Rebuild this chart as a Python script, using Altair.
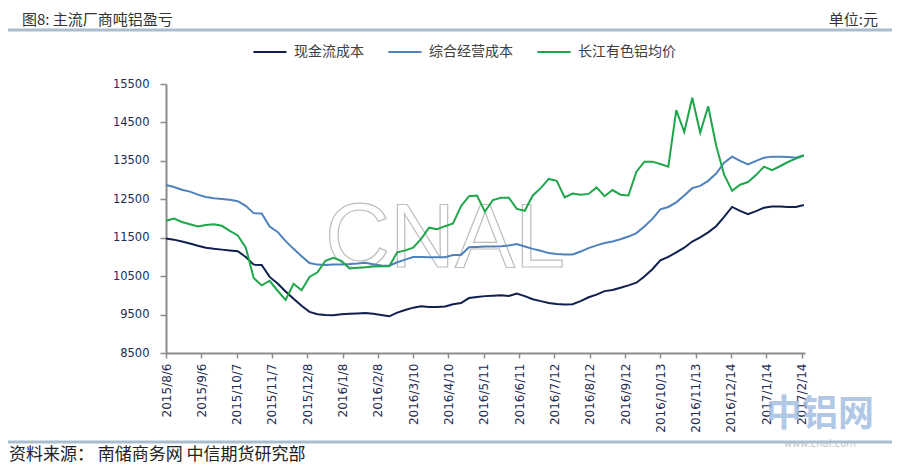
import altair as alt
import pandas as pd

# ---- data ----
dates = pd.date_range("2015-08-06", periods=81, freq="7D")

series_names = ["现金流成本", "综合经营成本", "长江有色铝均价"]

cash_cost = [11480, 11450, 11400, 11350, 11290, 11240, 11210, 11190, 11170, 11150,
             11000, 10800, 10790, 10480, 10310, 10100, 9910, 9730, 9570, 9510,
             9490, 9480, 9510, 9520, 9530, 9540, 9520, 9490, 9455, 9550,
             9620, 9680, 9715, 9700, 9700, 9710, 9770, 9800, 9930, 9960,
             9980, 9990, 10000, 9985, 10050, 9980, 9900, 9850, 9800, 9775,
             9765, 9770, 9850, 9950, 10020, 10110, 10140, 10200, 10260, 10330,
             10490, 10680, 10910, 11000, 11120, 11240, 11400, 11510, 11640, 11800,
             12040, 12300, 12200, 12110, 12190, 12280, 12310, 12310, 12300, 12300,
             12350]

total_cost = [12870, 12820, 12750, 12700, 12620, 12560, 12530, 12510, 12490, 12450,
              12330, 12140, 12130, 11790, 11650, 11410, 11210, 11020, 10840, 10800,
              10790, 10800, 10805, 10815, 10830, 10850, 10810, 10780, 10770, 10860,
              10930, 11000, 11000, 10990, 10990, 10990, 11050, 11050, 11250, 11260,
              11270, 11270, 11280, 11300, 11335, 11270, 11210, 11160, 11100, 11075,
              11065, 11065, 11140, 11230, 11300, 11360, 11400, 11460, 11530, 11620,
              11790, 11990, 12240, 12300, 12420, 12600, 12790, 12850, 12980, 13170,
              13450, 13610, 13500, 13410, 13500, 13580, 13610, 13610, 13600, 13580,
              13650]

price = [11940, 12000, 11910, 11850, 11790, 11830, 11850, 11810, 11680, 11560,
         11250, 10450, 10260, 10380, 10120, 9880, 10300, 10130, 10480, 10600,
         10900, 10980, 10900, 10700, 10720, 10730, 10750, 10760, 10760, 11120,
         11170, 11240, 11470, 11760, 11720, 11800, 11870, 12320, 12580, 12600,
         12180, 12480, 12540, 12540, 12250, 12200, 12600, 12790, 13030, 12980,
         12550, 12650, 12620, 12640, 12810, 12580, 12740, 12620, 12600, 13220,
         13480, 13480, 13420, 13350, 14820, 14250, 15140, 14230, 14920, 13900,
         13140, 12720, 12880, 12950, 13130, 13350, 13260, 13360, 13470, 13560,
         13640]

tick_dates = [(2015, 8, 6), (2015, 9, 6), (2015, 10, 7), (2015, 11, 7), (2015, 12, 8),
              (2016, 1, 8), (2016, 2, 8), (2016, 3, 10), (2016, 4, 10), (2016, 5, 11),
              (2016, 6, 11), (2016, 7, 12), (2016, 8, 12), (2016, 9, 12), (2016, 10, 13),
              (2016, 11, 13), (2016, 12, 14), (2017, 1, 14), (2017, 2, 14)]

y_ticks = [8500, 9500, 10500, 11500, 12500, 13500, 14500, 15500]

title_text = "图8: 主流厂商吨铝盈亏"
unit_text = "单位:元"
source_text = "资料来源： 南储商务网  中信期货研究部"

colors = ["#0f1f4f", "#4f81bd", "#20a64a"]

df = pd.DataFrame({
    "date": list(dates) * 3,
    "series": [series_names[0]] * 81 + [series_names[1]] * 81 + [series_names[2]] * 81,
    "value": cash_cost + total_cost + price,
})

W, H = 639, 269
CJK = "Noto Sans CJK SC"
LAB = "DejaVu Sans"
axis_gray = "#8c8c8c"
label_col = "#1c2b50"

dt = lambda t: alt.DateTime(year=t[0], month=t[1], date=t[2])

lines = alt.Chart(df).mark_line(strokeWidth=2).encode(
    x=alt.X("date:T",
            scale=alt.Scale(domain=[dt((2015, 8, 6)), dt((2017, 2, 17))]),
            axis=alt.Axis(values=[dt(t) for t in tick_dates], format="%Y/%-m/%-d",
                          labelAngle=-90, labelFont=LAB, labelFontSize=12,
                          labelColor=label_col, labelPadding=5, tickSize=5,
                          tickColor=axis_gray, domainColor=axis_gray, domainWidth=2,
                          tickWidth=1.5, grid=False, title=None, labelOverlap=False)),
    y=alt.Y("value:Q",
            scale=alt.Scale(domain=[8500, 15500], nice=False, zero=False),
            axis=alt.Axis(values=y_ticks, format="d", labelFont=LAB, labelFontSize=11.5,
                          labelColor=label_col, labelPadding=11, tickSize=6,
                          tickColor=axis_gray, domainColor=axis_gray, domainWidth=2,
                          tickWidth=1.5, grid=False, title=None)),
    color=alt.Color("series:N", sort=series_names,
                    scale=alt.Scale(domain=series_names, range=colors),
                    legend=alt.Legend(title=None, orient="none", direction="horizontal",
                                      legendX=86, legendY=-50, symbolType="stroke",
                                      symbolSize=1100, symbolStrokeWidth=2,
                                      labelFont=CJK, labelFontSize=14, labelColor="#404040",
                                      labelOffset=6, columnPadding=20)),
)

txt = pd.DataFrame({"t": [title_text, unit_text, source_text, "CNAL", "中铝网", "www.cnal.com"]})

def text_layer(i, **kw):
    pos = {k: kw.pop(k) for k in ["px", "py"]}
    return alt.Chart(txt.iloc[[i]]).mark_text(**kw).encode(
        x=alt.value(pos["px"]), y=alt.value(pos["py"]), text="t:N")

title = text_layer(0, px=22 - 166, py=20 - 84, align="left", baseline="middle",
                   font=CJK, fontSize=15, color="#333333")
unit = text_layer(1, px=878 - 166, py=20 - 84, align="right", baseline="middle",
                  font=CJK, fontSize=15, color="#333333")
source = text_layer(2, px=9 - 166, py=455 - 84, align="left", baseline="middle",
                    font=CJK, fontSize=17, color="#222222")
wm = text_layer(3, px=445 - 166, py=240 - 84, align="center", baseline="middle",
                font="Liberation Sans", fontSize=90, fill="white", stroke="#bdbdbd",
                strokeWidth=1.2)
logo = text_layer(4, px=820 - 166, py=415 - 84, align="center", baseline="middle",
                  font=CJK, fontSize=36, fontWeight="bold", color="#9dbbe0", opacity=0.8)
logo2 = text_layer(5, px=820 - 166, py=444 - 84, align="center", baseline="middle",
                   font=LAB, fontSize=10, color="#c8c8c8")

rule_df = pd.DataFrame({"a": [0]})
head_rule = alt.Chart(rule_df).mark_rule(color="#a9bdcf", strokeWidth=3).encode(
    x=alt.value(-158), x2=alt.value(892 - 166), y=alt.value(30 - 84))
foot_rule = alt.Chart(rule_df).mark_rule(color="#a9bdcf", strokeWidth=3).encode(
    x=alt.value(-158), x2=alt.value(892 - 166), y=alt.value(442 - 84))

chart = alt.layer(wm, logo, logo2, lines, title, unit, source, head_rule, foot_rule).properties(
    width=W, height=H,
    autosize=alt.AutoSizeParams(type="none"),
    padding={"left": 158, "top": 76, "right": 87, "bottom": 111},
).configure_view(stroke=None)

chart.save("out.html", embed_options={"renderer": "svg", "actions": False})
